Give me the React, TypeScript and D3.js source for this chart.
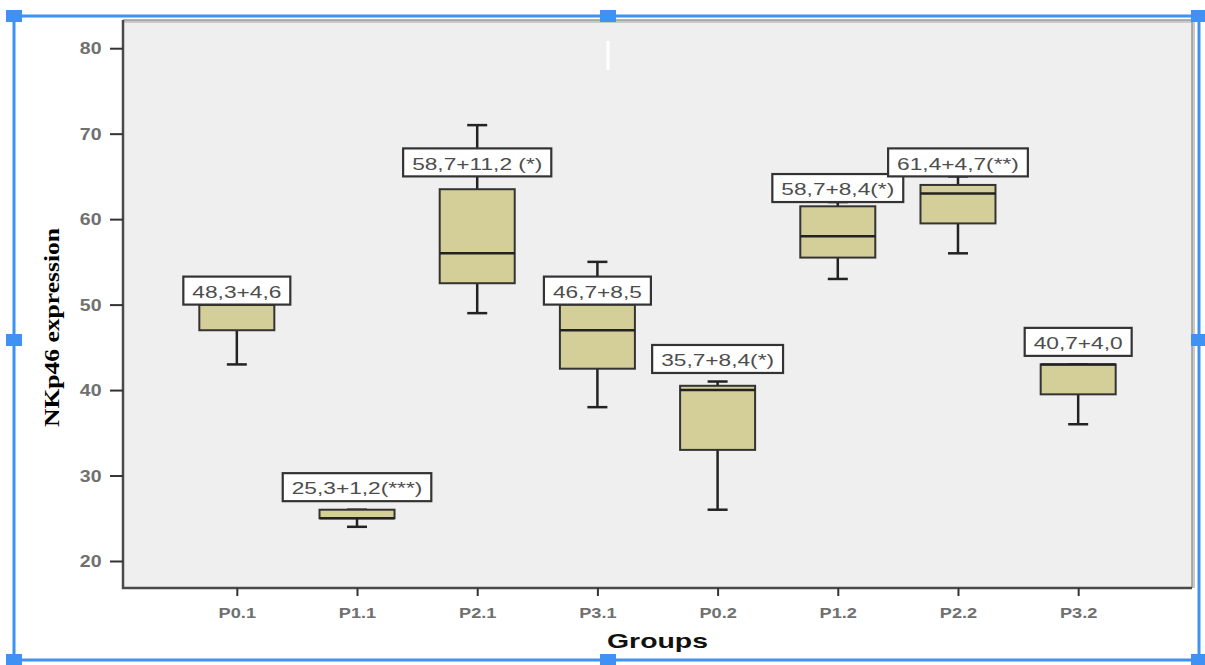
import React, { useEffect, useRef } from 'react';
import * as d3 from 'd3';

const groups = ['P0.1', 'P1.1', 'P2.1', 'P3.1', 'P0.2', 'P1.2', 'P2.2', 'P3.2'];
const mins = [43, 24, 49, 38, 26, 53, 56, 36];
const q1s = [47, 25, 52.5, 42.5, 33, 55.5, 59.5, 39.5];
const medians = [50, 25, 56, 47, 40, 58, 63, 43];
const q3s = [50, 26, 63.5, 50, 40.5, 61.5, 64, 43];
const maxs = [50, 26, 71, 55, 41, 62, 65, 43];
const labels = ['48,3+4,6', '25,3+1,2(***)', '58,7+11,2 (*)', '46,7+8,5', '35,7+8,4(*)', '58,7+8,4(*)', '61,4+4,7(**)', '40,7+4,0'];
// value at which each annotation box sits (its bottom edge)
const labelBase = [50, 27, 65, 50, 42, 62, 65, 44];
const yTicks = [20, 30, 40, 50, 60, 70, 80];

const W = 1205;
const H = 665;

const App: React.FC = () => {
  const ref = useRef<SVGSVGElement | null>(null);

  useEffect(() => {
    if (!ref.current) return;
    const svg = d3.select<SVGSVGElement, unknown>(ref.current);
    svg.selectAll('*').remove();

    const plot = { left: 123, right: 1192, top: 20, bottom: 588 };
    const stretch = 1.3; // the source picture is widened horizontally
    const labelStretch = 1.42;
    const blue = '#3f91f4';

    const x = d3.scalePoint<string>().domain(groups).range([plot.left, plot.right]).padding(0.947);
    const y = d3.scaleLinear().domain([16.84, 83.3]).range([plot.bottom, plot.top]);

    svg.append('rect').attr('width', W).attr('height', H).attr('fill', '#fff');

    svg.append('rect')
      .attr('x', plot.left)
      .attr('y', plot.top)
      .attr('width', plot.right - plot.left)
      .attr('height', plot.bottom - plot.top)
      .attr('fill', '#efefef');

    // frame: light top/right with a soft shadow, dark left/bottom
    svg.append('path')
      .attr('d', `M${plot.left},${plot.top + 1.5}H${plot.right + 1.5}V${plot.bottom}`)
      .attr('fill', 'none').attr('stroke', '#c9c9c9').attr('stroke-width', 3);
    svg.append('path')
      .attr('d', `M${plot.left},${plot.top}H${plot.right}V${plot.bottom}`)
      .attr('fill', 'none').attr('stroke', '#9a9a9a').attr('stroke-width', 1.5);
    svg.append('path')
      .attr('d', `M${plot.left},${plot.top}V${plot.bottom}H${plot.right}`)
      .attr('fill', 'none').attr('stroke', '#4a4a4a').attr('stroke-width', 2.5);

    // y axis
    const yAxis = svg.append('g')
      .attr('transform', `translate(${plot.left},0)`)
      .call(d3.axisLeft(y).tickValues(yTicks).tickSize(13).tickSizeOuter(0));
    yAxis.select('.domain').remove();
    yAxis.selectAll('line').attr('stroke', '#333').attr('stroke-width', 2);
    yAxis.selectAll('text')
      .attr('x', -21.5 / 1.22)
      .attr('dy', '0.36em')
      .attr('transform', 'scale(1.22,1)')
      .attr('fill', '#707070')
      .style('font-family', 'Liberation Sans, Arial, sans-serif')
      .style('font-weight', 'bold')
      .style('font-size', '16px');

    // x axis
    const xAxis = svg.append('g')
      .attr('transform', `translate(0,${plot.bottom})`)
      .call(d3.axisBottom(x).tickSize(8).tickSizeOuter(0));
    xAxis.select('.domain').remove();
    xAxis.selectAll('line').attr('stroke', '#333').attr('stroke-width', 2);
    xAxis.selectAll('text')
      .attr('y', 30)
      .attr('dy', 0)
      .attr('transform', `scale(${stretch},1)`)
      .attr('fill', '#707070')
      .style('font-family', 'Liberation Sans, Arial, sans-serif')
      .style('font-weight', 'bold')
      .style('font-size', '14px');

    // boxes
    const boxW = 75;
    const capW = 20;
    const boxes = svg.append('g');
    groups.forEach((gName, i) => {
      const cx = x(gName) as number;
      const b = boxes.append('g');
      b.append('line')
        .attr('x1', cx).attr('x2', cx)
        .attr('y1', y(mins[i])).attr('y2', y(maxs[i]))
        .attr('stroke', '#222').attr('stroke-width', 2.5);
      [mins[i], maxs[i]].forEach(v => {
        b.append('line')
          .attr('x1', cx - capW / 2).attr('x2', cx + capW / 2)
          .attr('y1', y(v)).attr('y2', y(v))
          .attr('stroke', '#222').attr('stroke-width', 2.5);
      });
      b.append('rect')
        .attr('x', cx - boxW / 2)
        .attr('y', y(q3s[i]))
        .attr('width', boxW)
        .attr('height', y(q1s[i]) - y(q3s[i]))
        .attr('fill', '#d4cf98')
        .attr('stroke', '#333')
        .attr('stroke-width', 2);
      b.append('line')
        .attr('x1', cx - boxW / 2).attr('x2', cx + boxW / 2)
        .attr('y1', y(medians[i])).attr('y2', y(medians[i]))
        .attr('stroke', '#222').attr('stroke-width', 2.5);
    });

    // annotation boxes
    const notes = svg.append('g');
    const labelH = 28;
    groups.forEach((gName, i) => {
      const cx = x(gName) as number;
      const bottom = y(labelBase[i]);
      const n = notes.append('g');
      const rect = n.append('rect');
      const t = n.append('text')
        .attr('transform', `translate(${cx},${bottom - 6.8}) scale(${labelStretch},1)`)
        .attr('text-anchor', 'middle')
        .attr('fill', '#4d4d4d')
        .style('font-family', 'Liberation Sans, Arial, sans-serif')
        .style('font-size', '16px')
        .text(labels[i]);
      const len = (t.node() as SVGTextElement).getComputedTextLength() * labelStretch;
      const w = len + 18;
      rect
        .attr('x', cx - w / 2)
        .attr('y', bottom - labelH)
        .attr('width', w)
        .attr('height', labelH)
        .attr('fill', '#fff')
        .attr('stroke', '#333')
        .attr('stroke-width', 2.2);
    });

    // axis titles
    svg.append('text')
      .attr('x', (plot.left + plot.right) / 2)
      .attr('y', 648)
      .attr('text-anchor', 'middle')
      .attr('textLength', 101)
      .attr('lengthAdjust', 'spacingAndGlyphs')
      .attr('fill', '#111')
      .style('font-family', 'Liberation Sans, Arial, sans-serif')
      .style('font-weight', 'bold')
      .style('font-size', '21px')
      .text('Groups');

    svg.append('text')
      .attr('transform', 'translate(59,327.5) rotate(-90)')
      .attr('text-anchor', 'middle')
      .attr('textLength', 199)
      .attr('lengthAdjust', 'spacingAndGlyphs')
      .attr('fill', '#000')
      .style('font-family', 'Liberation Serif, Times New Roman, serif')
      .style('font-weight', 'bold')
      .style('font-size', '22px')
      .text('NKp46 expression');

    // small white cursor mark
    svg.append('rect').attr('x', 606.5).attr('y', 41).attr('width', 3).attr('height', 29).attr('fill', '#fff');

    // selection frame with handles
    const frame = { x0: 14, y0: 16, x1: 1199, y1: 660 };
    svg.append('rect')
      .attr('x', frame.x0).attr('y', frame.y0)
      .attr('width', frame.x1 - frame.x0).attr('height', frame.y1 - frame.y0)
      .attr('fill', 'none').attr('stroke', blue).attr('stroke-width', 3);
    const mx = 608;
    const my = 340;
    const handles: [number, number][] = [
      [frame.x0, frame.y0], [mx, frame.y0], [frame.x1, frame.y0],
      [frame.x0, my], [frame.x1, my],
      [frame.x0, frame.y1], [mx, frame.y1], [frame.x1, frame.y1],
    ];
    svg.append('g').selectAll('rect').data(handles).join('rect')
      .attr('x', d => d[0] - 8).attr('y', d => d[1] - 6)
      .attr('width', 16).attr('height', 12)
      .attr('fill', blue);
  }, []);

  return <svg ref={ref} width={W} height={H} style={{ position: 'absolute', left: 0, top: 0, display: 'block' }} />;
};

export default App;
